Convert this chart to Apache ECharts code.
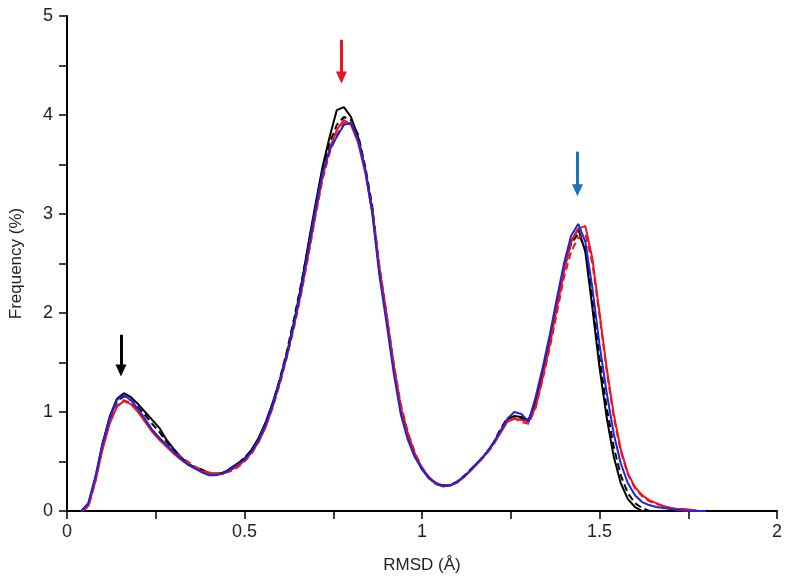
<!DOCTYPE html>
<html>
<head>
<meta charset="utf-8">
<script src="https://cdn.jsdelivr.net/npm/echarts@6/dist/echarts.min.js"></script>
<style>
  html, body { margin: 0; padding: 0; background: #fff; }
  #chart { width: 792px; height: 585px; }
</style>
</head>
<body>
<div id="chart"></div>
<script>
// RMSD bins (Å)
const rmsd = [
  0.04, 0.06, 0.08, 0.10, 0.12, 0.14, 0.16, 0.18, 0.20, 0.22, 0.24, 0.26, 0.28, 0.30, 0.32, 0.34, 0.36, 0.38, 0.40, 0.42,
  0.44, 0.46, 0.48, 0.50, 0.52, 0.54, 0.56, 0.58, 0.60, 0.62, 0.64, 0.66, 0.68, 0.70, 0.72, 0.74, 0.76, 0.78, 0.80, 0.82,
  0.84, 0.86, 0.88, 0.90, 0.92, 0.94, 0.96, 0.98, 1.00, 1.02, 1.04, 1.06, 1.08, 1.10, 1.12, 1.14, 1.16, 1.18, 1.20, 1.22,
  1.24, 1.26, 1.28, 1.30, 1.32, 1.34, 1.36, 1.38, 1.40, 1.42, 1.44, 1.46, 1.48, 1.50, 1.52, 1.54, 1.56, 1.58, 1.60, 1.62,
  1.64, 1.66, 1.68, 1.70, 1.72, 1.74, 1.76, 1.78, 1.80
];

const blackSolid = [
  0, 0.06, 0.33, 0.68, 0.95, 1.13, 1.19, 1.15, 1.08, 1.00, 0.92, 0.84, 0.72, 0.63, 0.55, 0.47, 0.44, 0.42, 0.38, 0.38,
  0.38, 0.43, 0.48, 0.53, 0.62, 0.74, 0.90, 1.10, 1.33, 1.60, 1.92, 2.28, 2.70, 3.10, 3.48, 3.78, 4.05, 4.08, 3.98, 3.78,
  3.45, 3.05, 2.42, 1.95, 1.45, 1.02, 0.75, 0.56, 0.42, 0.33, 0.28, 0.25, 0.26, 0.29, 0.35, 0.42, 0.50, 0.58, 0.68, 0.80,
  0.92, 0.96, 0.95, 0.92, 1.10, 1.40, 1.72, 2.08, 2.45, 2.72, 2.85, 2.62, 2.05, 1.45, 0.95, 0.55, 0.28, 0.12, 0.04, 0,
  0, 0, 0, 0, 0, 0, 0, 0, 0
];

const blackDashed = [
  0, 0.05, 0.32, 0.66, 0.93, 1.10, 1.16, 1.12, 1.05, 0.97, 0.88, 0.80, 0.70, 0.62, 0.54, 0.48, 0.44, 0.40, 0.38, 0.37,
  0.39, 0.42, 0.47, 0.54, 0.61, 0.73, 0.89, 1.09, 1.34, 1.62, 1.95, 2.30, 2.68, 3.08, 3.45, 3.72, 3.90, 3.98, 3.95, 3.80,
  3.48, 3.08, 2.45, 1.98, 1.48, 1.05, 0.78, 0.57, 0.43, 0.33, 0.28, 0.26, 0.26, 0.30, 0.36, 0.43, 0.50, 0.58, 0.68, 0.82,
  0.94, 0.95, 0.94, 0.90, 1.12, 1.42, 1.75, 2.10, 2.45, 2.70, 2.80, 2.66, 2.15, 1.55, 1.05, 0.65, 0.36, 0.18, 0.08, 0.03,
  0, 0, 0, 0, 0, 0, 0, 0, 0
];

const redSolid = [
  0, 0.05, 0.30, 0.62, 0.88, 1.05, 1.11, 1.08, 1.00, 0.90, 0.80, 0.72, 0.65, 0.58, 0.52, 0.47, 0.43, 0.40, 0.38, 0.37,
  0.38, 0.41, 0.45, 0.51, 0.59, 0.70, 0.85, 1.06, 1.30, 1.58, 1.88, 2.22, 2.60, 3.00, 3.38, 3.66, 3.85, 3.95, 3.90, 3.72,
  3.42, 3.02, 2.45, 1.98, 1.48, 1.05, 0.78, 0.58, 0.43, 0.34, 0.28, 0.25, 0.26, 0.30, 0.35, 0.42, 0.50, 0.58, 0.67, 0.78,
  0.90, 0.93, 0.92, 0.90, 1.05, 1.35, 1.68, 2.05, 2.42, 2.72, 2.85, 2.88, 2.55, 2.00, 1.45, 0.98, 0.62, 0.38, 0.24, 0.16,
  0.11, 0.08, 0.05, 0.03, 0.02, 0.02, 0.01, 0, 0
];

const redDashed = [
  0, 0.04, 0.30, 0.64, 0.90, 1.06, 1.12, 1.09, 1.02, 0.92, 0.82, 0.73, 0.66, 0.60, 0.55, 0.50, 0.45, 0.41, 0.39, 0.38,
  0.38, 0.40, 0.44, 0.50, 0.58, 0.70, 0.86, 1.05, 1.29, 1.56, 1.86, 2.20, 2.58, 2.98, 3.35, 3.62, 3.80, 3.92, 3.93, 3.75,
  3.45, 3.05, 2.48, 2.00, 1.50, 1.08, 0.80, 0.59, 0.44, 0.34, 0.28, 0.26, 0.26, 0.29, 0.35, 0.42, 0.49, 0.57, 0.66, 0.79,
  0.91, 0.94, 0.90, 0.88, 1.04, 1.33, 1.65, 2.00, 2.36, 2.62, 2.76, 2.80, 2.50, 1.98, 1.42, 0.95, 0.60, 0.37, 0.23, 0.15,
  0.10, 0.07, 0.05, 0.03, 0.02, 0.01, 0.01, 0, 0
];

const blueSolid = [
  0, 0.08, 0.35, 0.68, 0.93, 1.12, 1.17, 1.12, 1.03, 0.93, 0.82, 0.74, 0.67, 0.60, 0.53, 0.47, 0.43, 0.39, 0.36, 0.36,
  0.38, 0.42, 0.47, 0.52, 0.60, 0.72, 0.88, 1.08, 1.32, 1.58, 1.90, 2.25, 2.65, 3.05, 3.42, 3.65, 3.78, 3.90, 3.92, 3.75,
  3.45, 3.00, 2.38, 1.90, 1.40, 0.98, 0.72, 0.54, 0.43, 0.33, 0.27, 0.25, 0.26, 0.30, 0.35, 0.43, 0.50, 0.58, 0.68, 0.80,
  0.93, 1.00, 0.98, 0.90, 1.15, 1.45, 1.78, 2.15, 2.50, 2.78, 2.90, 2.72, 2.25, 1.68, 1.20, 0.78, 0.48, 0.28, 0.16, 0.09,
  0.06, 0.04, 0.03, 0.02, 0.01, 0, 0, 0, 0
];

// arrows over the three peaks: [x, yStart, yEnd]
const arrowBlack = [0.152, 1.78, 1.42];
const arrowRed = [0.773, 4.76, 4.38];
const arrowBlue = [1.438, 3.63, 3.24];

function pairs(ys) {
  return rmsd.map((x, i) => [x, ys[i]]);
}

function arrow(a, color) {
  return {
    silent: true,
    symbol: ['none', 'triangle'],
    symbolSize: [11, 12],
    symbolRotate: 180,
    label: { show: false },
    lineStyle: { color: color, width: 3, type: 'solid' },
    data: [[{ coord: [a[0], a[1]] }, { coord: [a[0], a[2]] }]]
  };
}

function line(name, ys, color, dashed, mark) {
  return {
    name: name,
    type: 'line',
    data: pairs(ys),
    showSymbol: false,
    smooth: false,
    lineStyle: { color: color, width: 2, type: dashed ? [7, 4] : 'solid' },
    itemStyle: { color: color },
    markLine: mark,
    z: 2
  };
}

const chart = echarts.init(document.getElementById('chart'));
const axisFont = { fontFamily: 'Liberation Sans, Arial, sans-serif', fontSize: 18, color: '#222' };
const nameFont = { fontFamily: 'Liberation Sans, Arial, sans-serif', fontSize: 17, color: '#222' };

chart.setOption({
  animation: false,
  grid: { left: 65, right: 15, top: 16, bottom: 74 },
  xAxis: {
    type: 'value',
    min: 0, max: 2, interval: 0.5,
    name: 'RMSD (Å)',
    nameLocation: 'middle',
    nameGap: 46,
    nameTextStyle: nameFont,
    axisLine: { onZero: false, lineStyle: { color: '#000', width: 2 } },
    axisTick: { length: 8, lineStyle: { color: '#000', width: 1.5 } },
    minorTick: { show: true, splitNumber: 2, length: 8, lineStyle: { color: '#000', width: 1.5 } },
    axisLabel: Object.assign({ margin: 12 }, axisFont),
    splitLine: { show: false }
  },
  yAxis: {
    type: 'value',
    min: 0, max: 5, interval: 1,
    name: 'Frequency (%)',
    nameLocation: 'middle',
    nameGap: 42,
    nameTextStyle: nameFont,
    axisLine: { show: true, onZero: false, lineStyle: { color: '#000', width: 2 } },
    axisTick: { length: 8, lineStyle: { color: '#000', width: 1.5 } },
    minorTick: { show: true, splitNumber: 2, length: 8, lineStyle: { color: '#000', width: 1.5 } },
    axisLabel: Object.assign({ margin: 14 }, axisFont),
    splitLine: { show: false }
  },
  series: [
    line('black dashed', blackDashed, '#000000', true, arrow(arrowBlack, '#000000')),
    line('black', blackSolid, '#000000', false),
    line('red dashed', redDashed, '#e8161e', true, arrow(arrowRed, '#e8161e')),
    line('red', redSolid, '#e8161e', false),
    line('blue', blueSolid, '#2323dc', false, arrow(arrowBlue, '#1a73b8'))
  ]
});
</script>
</body>
</html>
